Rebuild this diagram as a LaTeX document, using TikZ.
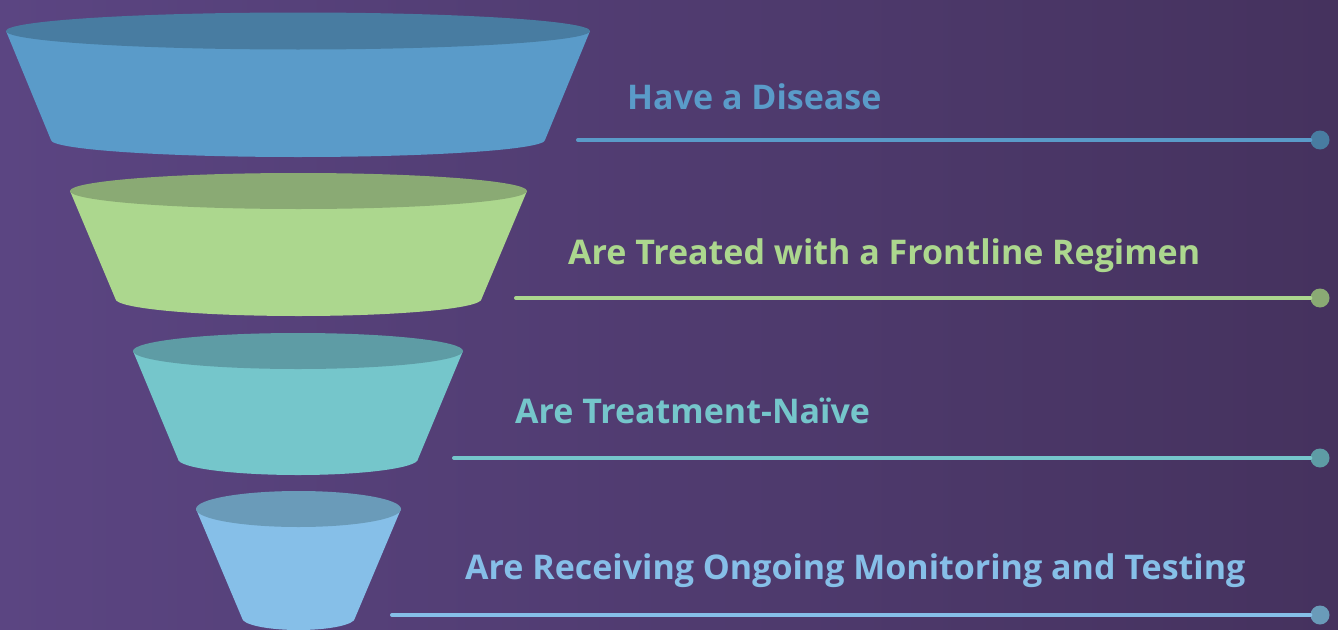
\documentclass[tikz,border=0pt]{standalone}
\usepackage{fontspec}
\setmainfont{Open Sans}
\usepackage{tikz}

\definecolor{bgleft}{HTML}{5B4582}
\definecolor{bgright}{HTML}{45325E}
\definecolor{sideA}{HTML}{5A9BC9}
\definecolor{topA}{HTML}{487CA1}
\definecolor{sideB}{HTML}{ACD78E}
\definecolor{topB}{HTML}{8AAA74}
\definecolor{sideC}{HTML}{75C6CB}
\definecolor{topC}{HTML}{5E9CA5}
\definecolor{sideD}{HTML}{86BFE8}
\definecolor{topD}{HTML}{6A9BB9}

\tikzset{
  stagetext/.style={anchor=base west, inner sep=0pt, font=\fontsize{34}{40}\selectfont\bfseries},
  stagedot/.style={circle, minimum size=19pt, inner sep=0pt},
  stageline/.style={line width=4pt, line cap=round}
}

\begin{document}
\begin{tikzpicture}[x=1pt,y=-1pt]
  \useasboundingbox (0,0) rectangle (1338,629);
  \shade[left color=bgleft,right color=bgright] (0,0) rectangle (1338,629);

  % funnel
  \fill[sideA] (6,31) -- (51,140) -- (545,140) -- (590,31) -- cycle;
  \fill[sideA] (298,140) ellipse [x radius=247, y radius=17];
  \fill[topA] (298,31) ellipse [x radius=292, y radius=18.5];

  \fill[sideB] (70,191) -- (115.5,299) -- (481.5,299) -- (527,191) -- cycle;
  \fill[sideB] (298.5,299) ellipse [x radius=183, y radius=17];
  \fill[topB] (298.5,191) ellipse [x radius=228.5, y radius=18];

  \fill[sideC] (133,351) -- (178,459) -- (418,459) -- (463,351) -- cycle;
  \fill[sideC] (298,459) ellipse [x radius=120, y radius=16];
  \fill[topC] (298,351) ellipse [x radius=165, y radius=18];

  \fill[sideD] (196,509) -- (242,618) -- (355,618) -- (401,509) -- cycle;
  \fill[sideD] (298.5,618) ellipse [x radius=56.5, y radius=12];
  \fill[topD] (298.5,509) ellipse [x radius=102.5, y radius=18];

  % labels
  \node[stagetext, text=sideA] (disease) at (627,109) {Have a Disease};
  \node[stagetext, text=sideB] (frontline) at (568,264) {Are Treated with a Frontline Regimen};
  \node[stagetext, text=sideC] (naive) at (515,423) {Are Treatment-Naïve};
  \node[stagetext, text=sideD] (monitoring) at (465,579) {Are Receiving Ongoing Monitoring and Testing};

  % lines
  \coordinate (diseasestart) at (578,140);
  \node[stagedot, fill=topA] (diseasedot) at (1320,140) {};
  \draw[stageline, sideA] (diseasestart) -- (diseasedot);

  \coordinate (frontlinestart) at (516,298);
  \node[stagedot, fill=topB] (frontlinedot) at (1320,298) {};
  \draw[stageline, sideB] (frontlinestart) -- (frontlinedot);

  \coordinate (naivestart) at (454,458);
  \node[stagedot, fill=topC] (naivedot) at (1320,458) {};
  \draw[stageline, sideC] (naivestart) -- (naivedot);

  \coordinate (monitoringstart) at (392,615);
  \node[stagedot, fill=topD] (monitoringdot) at (1320,615) {};
  \draw[stageline, sideD] (monitoringstart) -- (monitoringdot);
\end{tikzpicture}
\end{document}
